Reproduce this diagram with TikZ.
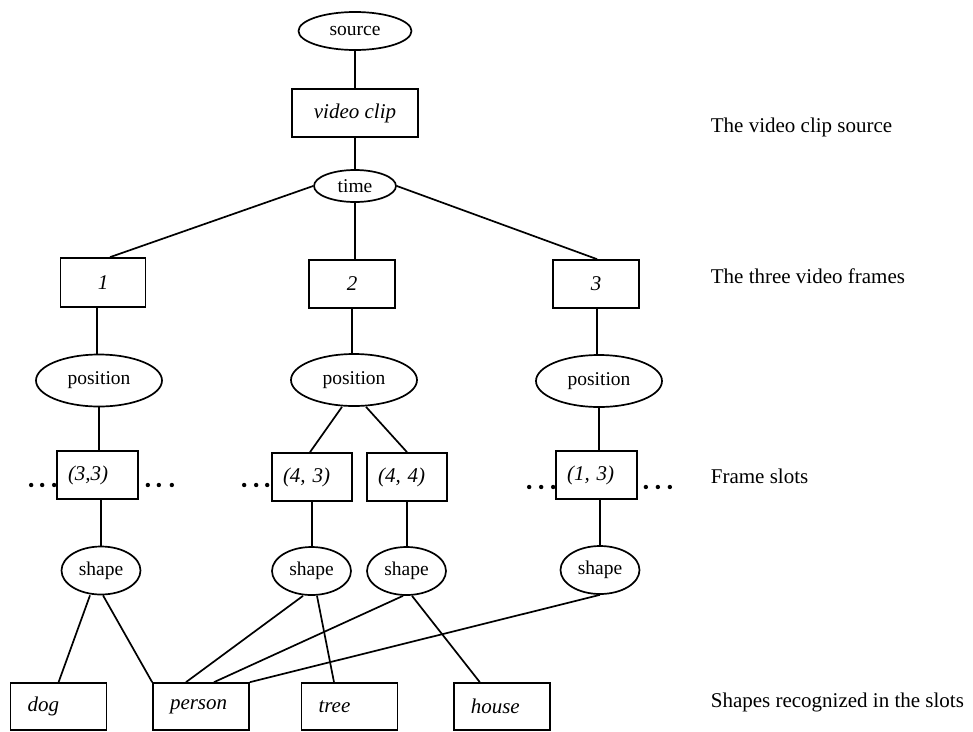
\documentclass[tikz,border=0pt]{standalone}
\usepackage{fontspec}
\setmainfont{Liberation Serif}
\usetikzlibrary{shapes.geometric,calc}
\begin{document}
\begin{tikzpicture}[x=1pt,y=-1pt,line width=1.7pt,
  oval/.style={draw,ellipse,inner sep=0pt,font=\fontsize{19.5pt}{23pt}\selectfont},
  framebox/.style={draw,rectangle,inner sep=0pt,font=\fontsize{21pt}{25pt}\selectfont\itshape},
  slotbox/.style={draw,rectangle,inner xsep=11pt,inner ysep=0pt,align=left,
    font=\fontsize{21pt}{25pt}\selectfont\itshape},
  leafbox/.style={draw,rectangle,inner xsep=17pt,inner ysep=0pt,align=left,
    minimum width=96pt,minimum height=47pt,text width=62pt,
    font=\fontsize{21pt}{25pt}\selectfont\itshape},
  posoval/.style={oval,minimum width=126pt,minimum height=52pt},
  shapeoval/.style={oval,minimum width=79pt,minimum height=48pt},
  sidenote/.style={anchor=base west,inner sep=0pt,font=\fontsize{21pt}{25pt}\selectfont},
  dot/.style={fill=black}
]
\useasboundingbox (0,0) rectangle (973,731);

% source and clip
\node[oval,minimum width=113pt,minimum height=38pt] (src) at (355,31) {source};
\node[framebox,minimum width=126pt,minimum height=48pt] (clip) at (355,113) {video clip};
\node[oval,minimum width=82pt,minimum height=32pt] (time) at (355,186) {time};

% frames
\node[framebox,minimum width=85pt,minimum height=49pt] (f1) at (103,282.5) {1};
\node[framebox,minimum width=86pt,minimum height=48pt] (f2) at (352,284) {2};
\node[framebox,minimum width=86pt,minimum height=48pt] (f3) at (596,284) {3};

% positions
\node[posoval] (p1) at (99,380.5) {position};
\node[posoval] (p2) at (354,380) {position};
\node[posoval] (p3) at (599,381) {position};

% slots
\node[slotbox,minimum width=81pt,minimum height=48pt,text width=59pt] (s33) at (97.5,475) {(3,3)};
\node[slotbox,minimum width=80pt,minimum height=48pt,text width=58pt] (s43) at (312,477) {(4, 3)};
\node[slotbox,minimum width=80pt,minimum height=48pt,text width=58pt] (s44) at (407,477) {(4, 4)};
\node[slotbox,minimum width=81pt,minimum height=48pt,text width=59pt] (s13) at (596.5,475) {(1, 3)};

% shapes
\node[shapeoval] (sh1) at (101,570.5) {shape};
\node[shapeoval] (sh2) at (311.5,571) {shape};
\node[shapeoval] (sh3) at (406.5,571) {shape};
\node[shapeoval] (sh4) at (600,570) {shape};

% recognized objects
\node[leafbox] (dog) at (58.6,706.5) {dog};
\node[leafbox] (person) at (201,706.5) {person};
\node[leafbox] (tree) at (349.5,706.5) {tree};
\node[leafbox] (house) at (501.8,706.5) {house};

% side notes
\node[sidenote] (n1) at (710,132) {The video clip source};
\node[sidenote] (n2) at (710,283) {The three video frames};
\node[sidenote] (n3) at (710,483) {Frame slots};
\node[sidenote] (n4) at (710,707) {Shapes recognized in the slots};

% connectors
\draw (src) -- (clip);
\draw (clip) -- (time);
\draw (time.west) -- ([xshift=7pt]f1.north);
\draw (time.south) -- (time.south |- f2.north);
\draw (time.east) -- ([xshift=1pt]f3.north);

\draw ([xshift=-6pt]f1.south) -- ([xshift=-6pt]f1.south |- p1.north);
\draw (f2.south) -- (f2.south |- p2.north);
\draw ([xshift=1pt]f3.south) -- ([xshift=1pt]f3.south |- p3.north);

\draw (p1.south) -- (p1.south |- s33.north);
\draw ([xshift=-12pt]p2.south) -- ([xshift=-2pt]s43.north);
\draw ([xshift=12pt]p2.south) -- (s44.north);
\draw (p3.south) -- (p3.south |- s13.north);

\draw (sh1.north) -- (sh1.north |- s33.south);
\draw (s43.south) -- (s43.south |- sh2.north);
\draw (s44.south) -- (s44.south |- sh3.north);
\draw (sh4.north) -- (sh4.north |- s13.south);

\draw ([xshift=-11pt]sh1.south) -- (dog.north);
\draw ([xshift=2pt]sh1.south) -- (person.north west);
\draw ([xshift=-8.5pt]sh2.south) -- ([xshift=-15pt]person.north);
\draw ([xshift=5.5pt]sh2.south) -- ([xshift=-15.5pt]tree.north);
\draw ([xshift=-3.5pt]sh3.south) -- ([xshift=13pt]person.north);
\draw ([xshift=5.5pt]sh3.south) -- ([xshift=-22pt]house.north);
\draw (sh4.south) -- (person.north east);

% ellipsis dots beside the slots
\foreach \dx in {-25,-14,-2} \fill[dot] ($(s33.west)+(\dx,10)$) circle (2.2pt);
\foreach \dx in {9,20,33} \fill[dot] ($(s33.east)+(\dx,10)$) circle (2.2pt);
\foreach \dx in {-27,-15,-4} \fill[dot] ($(s43.west)+(\dx,8)$) circle (2.2pt);
\foreach \dx in {-26,-14,-2} \fill[dot] ($(s13.west)+(\dx,12)$) circle (2.2pt);
\foreach \dx in {8,20,32} \fill[dot] ($(s13.east)+(\dx,12)$) circle (2.2pt);
\end{tikzpicture}
\end{document}
